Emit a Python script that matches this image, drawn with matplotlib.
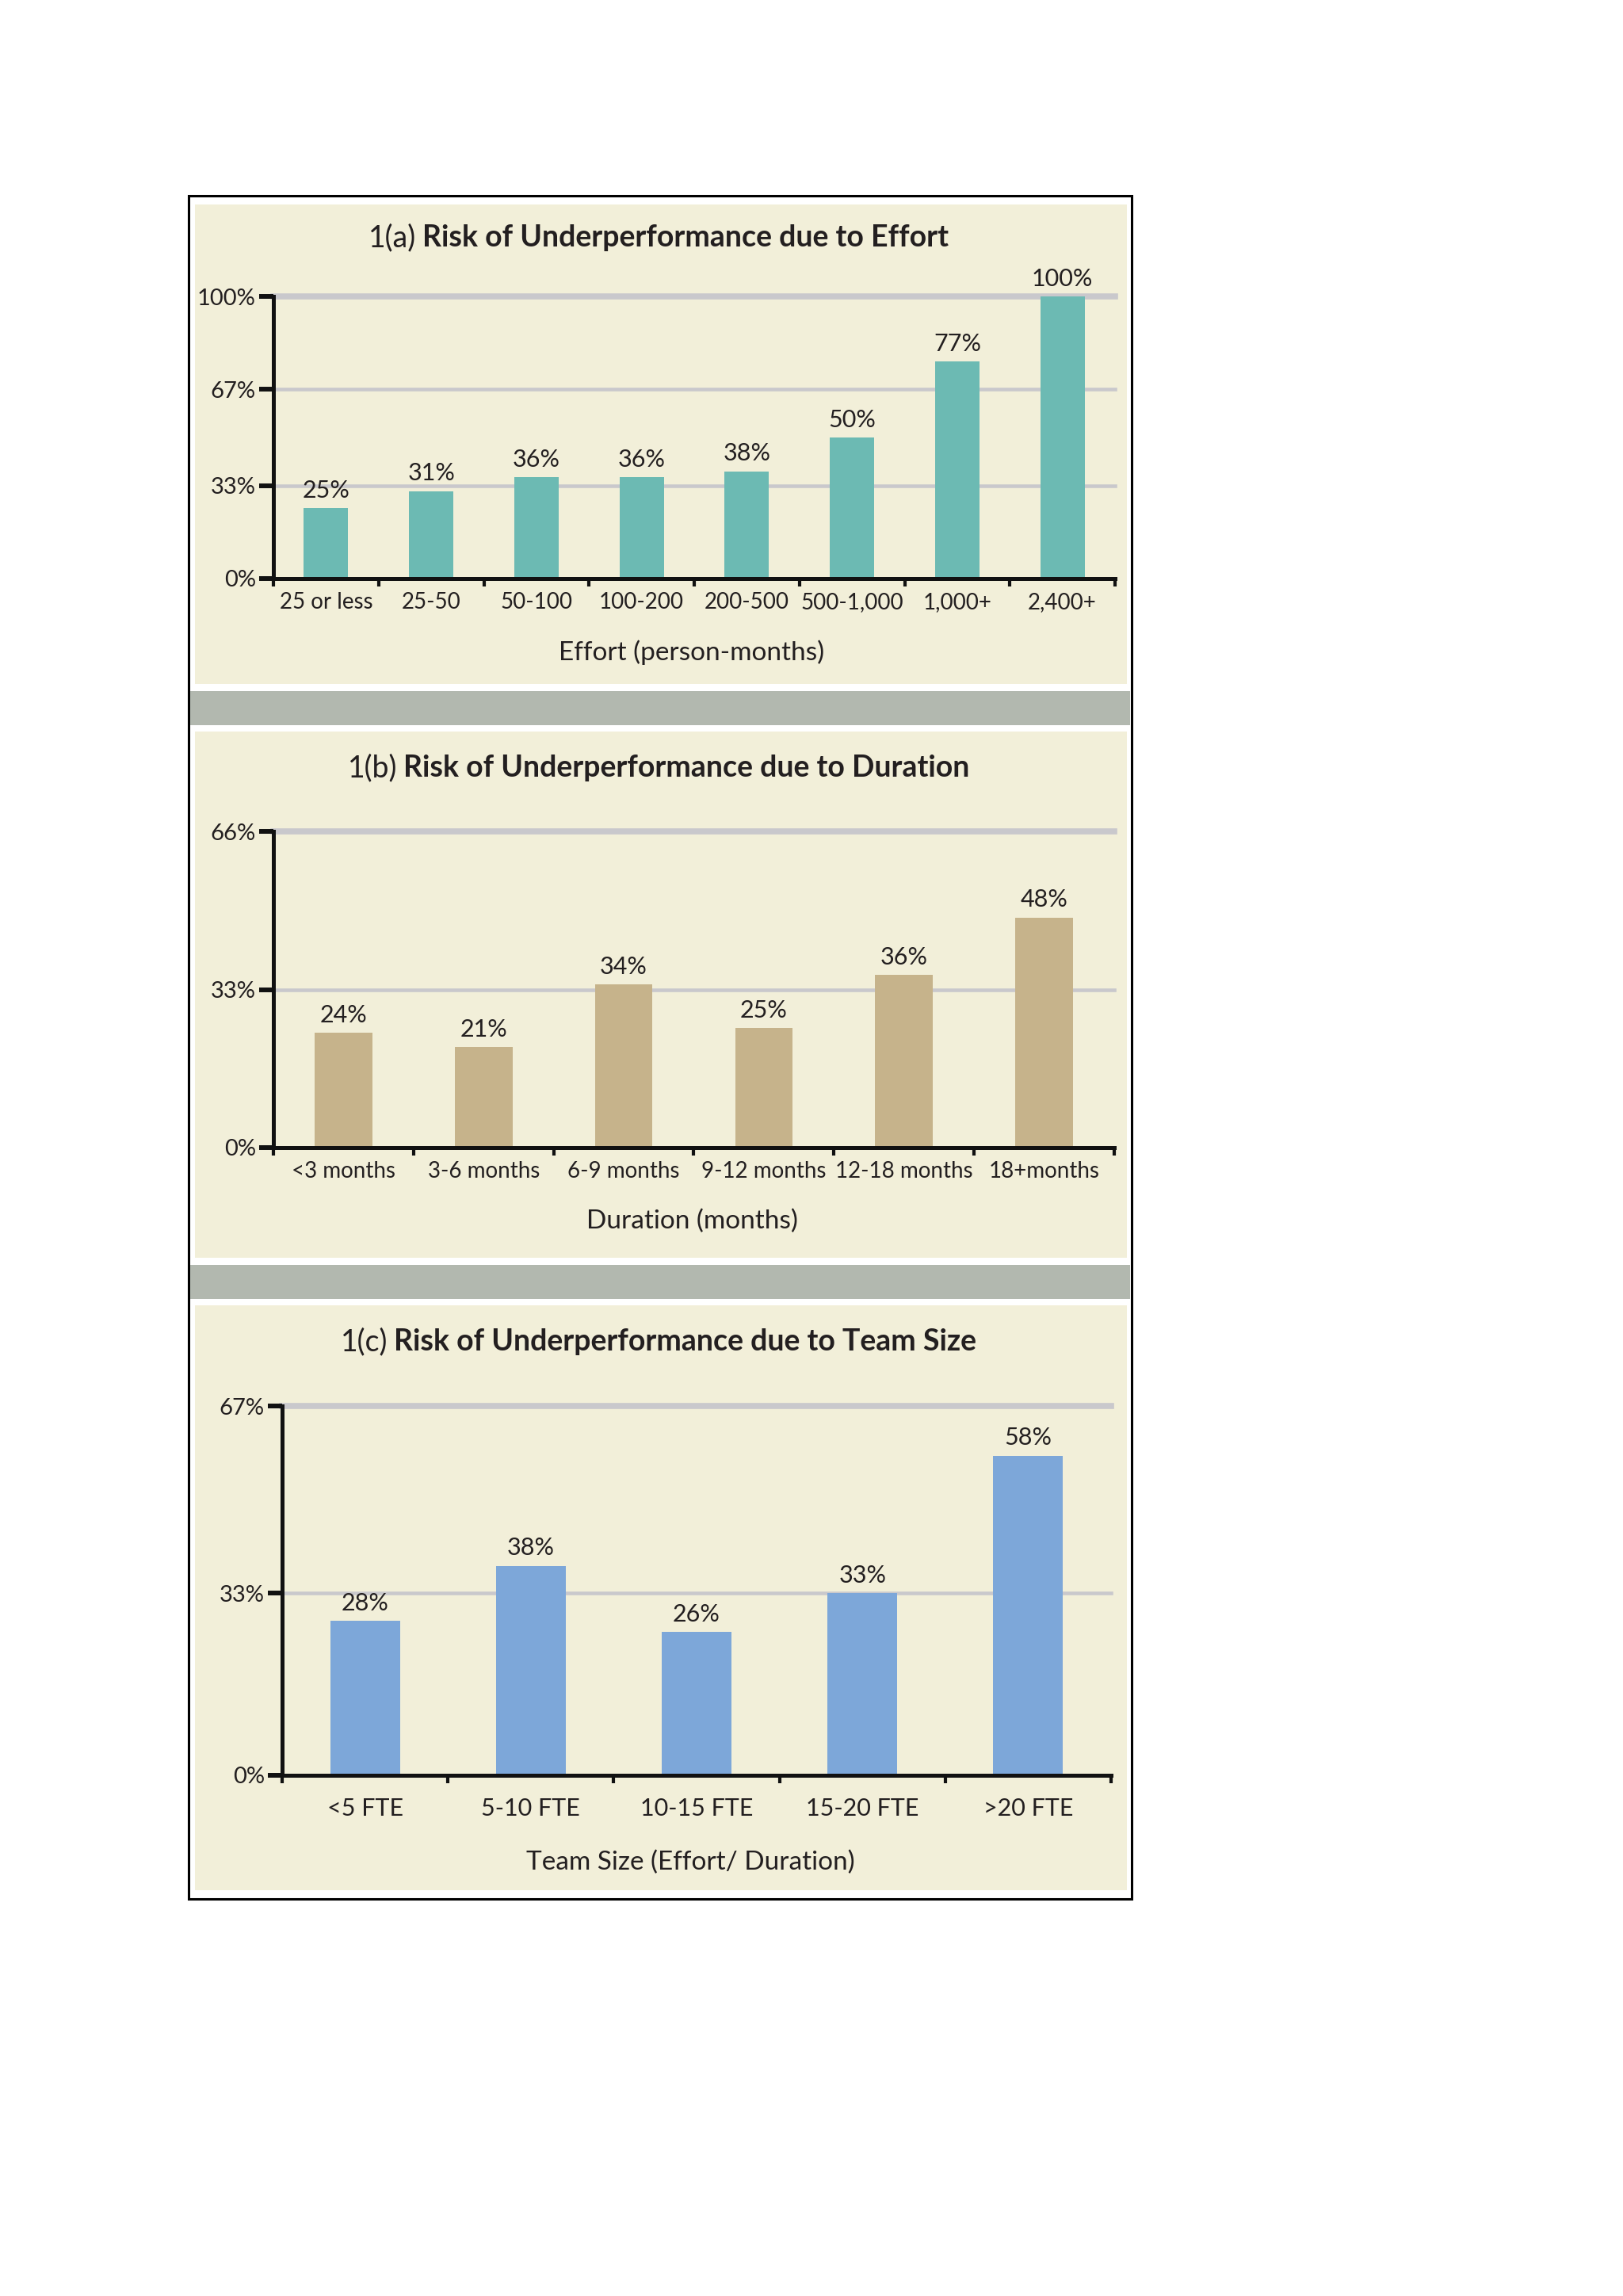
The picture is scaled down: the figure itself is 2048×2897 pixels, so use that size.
import matplotlib
matplotlib.use("Agg")
import matplotlib.pyplot as plt
from matplotlib.patches import Rectangle

plt.rcParams['font.family'] = ['Lato', 'DejaVu Sans']

# data
effort_cats = ["25 or less", "25-50", "50-100", "100-200", "200-500", "500-1,000", "1,000+", "2,400+"]
effort_vals = [25, 31, 36, 36, 38, 50, 77, 100]
effort_ticks = [0, 33, 67, 100]

duration_cats = ["<3 months", "3-6 months", "6-9 months", "9-12 months", "12-18 months", "18+months"]
duration_vals = [24, 21, 34, 25, 36, 48]
duration_ticks = [0, 33, 66]

team_cats = ["<5 FTE", "5-10 FTE", "10-15 FTE", "15-20 FTE", ">20 FTE"]
team_vals = [28, 38, 26, 33, 58]
team_ticks = [0, 33, 67]

W, H = 2048, 2897
TEXT = '#231f20'
CREAM = '#f2efd9'
BAND = '#b2b8af'
GRID = '#c9c8cc'

fig = plt.figure(figsize=(W / 100, H / 100), dpi=100)
fig.patch.set_facecolor('white')


def rect_px(x0, y0, x1, y1, **kw):
    r = Rectangle((x0 / W, 1 - y1 / H), (x1 - x0) / W, (y1 - y0) / H,
                  transform=fig.transFigure, zorder=-5, **kw)
    fig.patches.append(r)
    return r


# frame, panels and separator bands
rect_px(238, 247, 1428, 2396, facecolor='white', edgecolor='black', linewidth=2.2)
rect_px(246, 258, 1422, 863, facecolor=CREAM, edgecolor='none')
rect_px(240, 872, 1426, 915, facecolor=BAND, edgecolor='none')
rect_px(246, 923, 1422, 1587, facecolor=CREAM, edgecolor='none')
rect_px(240, 1596, 1426, 1639, facecolor=BAND, edgecolor='none')
rect_px(246, 1647, 1422, 2385, facecolor=CREAM, edgecolor='none')


def two_part_title(cx, cy, lead, rest, size=27):
    t1 = fig.text(0, 1 - cy / H, lead, fontsize=size, color=TEXT, va='center', ha='left')
    t2 = fig.text(0, 1 - cy / H, rest, fontsize=size, color=TEXT, va='center', ha='left',
                  fontweight='bold')
    r = fig.canvas.get_renderer()
    w1 = t1.get_window_extent(r).width
    w2 = t2.get_window_extent(r).width
    gap = 8
    x0 = cx - (w1 + gap + w2) / 2
    t1.set_x(x0 / W)
    t2.set_x((x0 + w1 + gap) / W)


def panel(box, cats, vals, ticks, color, bar_w, tick_pad, tick_size, title, xlabel, title_y, xlabel_pos):
    l, t, r, b = box
    ax = fig.add_axes([l / W, 1 - b / H, (r - l) / W, (b - t) / H])
    ax.set_facecolor('none')
    n = len(cats)
    x = list(range(n))
    ax.set_xlim(-0.5, n - 0.5)
    ax.set_ylim(0, ticks[-1])

    # gridlines (top one heavier)
    for tv in ticks[1:]:
        lw = 5.5 if tv == ticks[-1] else 3.3
        ax.axhline(tv, color=GRID, linewidth=lw, zorder=1, clip_on=False)

    ax.bar(x, vals, width=bar_w, color=color, zorder=2)
    for xi, v in zip(x, vals):
        ax.annotate(f"{v}%", (xi, v), xytext=(0, 6), textcoords='offset points',
                    ha='center', va='bottom', fontsize=22, color=TEXT, zorder=3)

    for s in ['top', 'right']:
        ax.spines[s].set_visible(False)
    for s in ['left', 'bottom']:
        ax.spines[s].set_linewidth(3.6)
        ax.spines[s].set_color('#111111')
        ax.spines[s].set_zorder(4)

    ax.set_yticks(ticks)
    ax.set_yticklabels([f"{tv}%" for tv in ticks])
    ax.tick_params(axis='y', direction='out', length=13, width=4.3, color='#111111',
                   labelsize=21, labelcolor=TEXT, pad=3)

    ax.set_xticks([i - 0.5 for i in range(n + 1)])
    ax.set_xticklabels([])
    ax.tick_params(axis='x', which='major', direction='out', length=7, width=3, color='#111111')
    ax.set_xticks(x, minor=True)
    ax.set_xticklabels(cats, minor=True)
    ax.tick_params(axis='x', which='minor', length=0, labelsize=tick_size, labelcolor=TEXT, pad=tick_pad)

    two_part_title(831, title_y, title[0], title[1])
    fig.text(xlabel_pos[0] / W, 1 - xlabel_pos[1] / H, xlabel, fontsize=24, color=TEXT,
             ha='center', va='center')
    return ax


panel((345, 374, 1407, 730), effort_cats, effort_vals, effort_ticks, '#6cbab3', 0.42, 12, 20,
      ("1(a)", "Risk of Underperformance due to Effort"), "Effort (person-months)", 300, (873, 823))
panel((345, 1049, 1406, 1448), duration_cats, duration_vals, duration_ticks, '#c6b38b', 0.41, 12, 20,
      ("1(b)", "Risk of Underperformance due to Duration"), "Duration (months)", 969, (873, 1541))
panel((356, 1774, 1402, 2240), team_cats, team_vals, team_ticks, '#7da7d9', 0.42, 20, 22,
      ("1(c)", "Risk of Underperformance due to Team Size"), "Team Size (Effort/ Duration)", 1693, (871, 2350))

fig.savefig("out.png", dpi=100, facecolor='white')
